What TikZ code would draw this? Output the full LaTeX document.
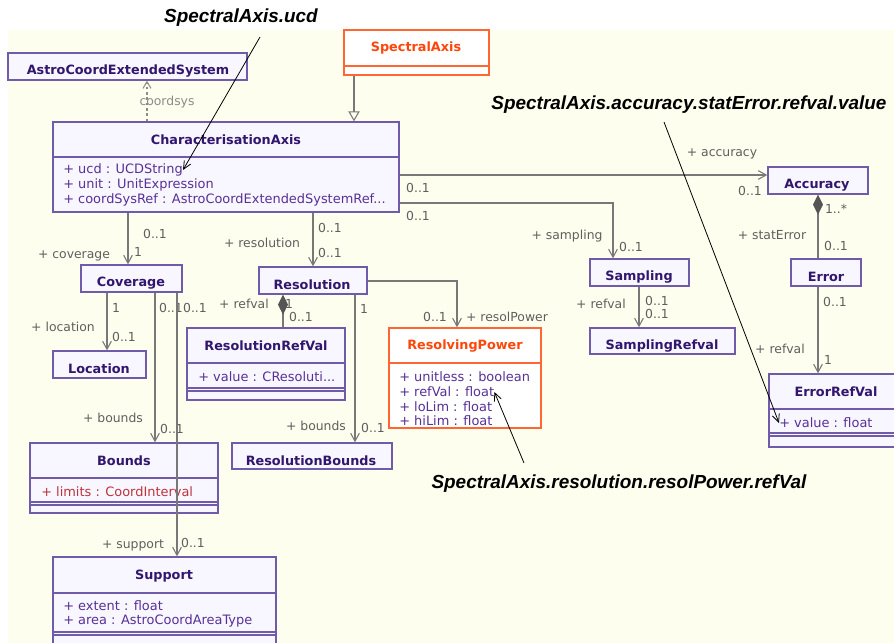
\documentclass[tikz,border=0pt]{standalone}
\usepackage{fontspec}
\usetikzlibrary{arrows.meta,fit}
\newfontfamily\umlfamily{DejaVu Sans}
\newfontfamily\notefamily{Liberation Sans}
\definecolor{bgyellow}{RGB}{254,254,238}
\definecolor{boxfill}{RGB}{248,247,255}
\definecolor{umlpurple}{RGB}{112,90,170}
\definecolor{namecol}{RGB}{50,22,110}
\definecolor{attrcol}{RGB}{88,48,150}
\definecolor{umlorange}{RGB}{255,102,51}
\definecolor{nameorange}{RGB}{255,70,10}
\definecolor{limred}{RGB}{190,50,60}
\definecolor{linegray}{RGB}{120,120,120}
\definecolor{lblgray}{RGB}{95,95,95}
\definecolor{coordgray}{RGB}{140,140,140}
\definecolor{diamondgray}{RGB}{85,85,85}

\tikzset{
  umlbox/.style={draw=umlpurple, fill=boxfill, line width=1pt, inner sep=0pt},
  hotbox/.style={draw=umlorange, fill=white, line width=1pt, inner sep=0pt},
  sepline/.style={draw=umlpurple, line width=0.8pt},
  hotsep/.style={draw=umlorange, line width=0.8pt},
  clsname/.style={font=\umlfamily\bfseries\fontsize{9.6}{11}\selectfont, text=namecol, inner sep=0pt},
  attr/.style={font=\umlfamily\fontsize{9.7}{11}\selectfont, text=attrcol, anchor=west, inner sep=0pt},
  role/.style={font=\umlfamily\fontsize{9.3}{11}\selectfont, text=lblgray, inner sep=0pt},
  assoc/.style={draw=linegray, line width=0.8pt, -{Straight Barb[length=6pt,width=6.5pt]}},
  compline/.style={draw=linegray, line width=0.8pt, {Diamond[length=15pt,width=7.5pt,color=diamondgray]}-},
  comp/.style={compline, -{Straight Barb[length=6pt,width=6.5pt]}},
  gen/.style={draw=linegray, line width=0.8pt, -{Triangle[open,length=7.5pt,width=8.5pt,fill=bgyellow]}},
  dep/.style={draw=coordgray, line width=0.8pt, dash pattern=on 2pt off 2pt, -{Straight Barb[length=5pt,width=6pt]}},
  note/.style={font=\notefamily\bfseries\itshape\fontsize{14.2}{16}\selectfont, text=black, inner sep=0pt},
  pointer/.style={draw=black, line width=0.6pt, -{Straight Barb[length=6pt,width=5.5pt]}}
}

\begin{document}
\begin{tikzpicture}[x=0.75pt,y=0.75pt,yscale=-1,xscale=1]
\useasboundingbox (0,0) rectangle (894,643);
\clip (0,0) rectangle (894,643);
\fill[white] (0,0) rectangle (894,643);
\fill[bgyellow] (8,30) rectangle (894,643);

% class boxes
\node[umlbox, fit={(8,53) (247,80)}] (aces) {};
\node[hotbox, fit={(344,30) (489,75)}] (sa) {};
\node[umlbox, fit={(53,122) (399,212)}] (ca) {};
\node[umlbox, fit={(81,265) (182,292)}] (cov) {};
\node[umlbox, fit={(259,267) (367,294)}] (res) {};
\node[umlbox, fit={(53,351) (146,378)}] (loc) {};
\node[umlbox, fit={(187,328) (345,400)}] (rrv) {};
\node[hotbox, fit={(389,328) (541,428)}] (rp) {};
\node[umlbox, fit={(590,259) (689,286)}] (samp) {};
\node[umlbox, fit={(590,328) (735,354)}] (srv) {};
\node[umlbox, fit={(768,167) (868,194)}] (acc) {};
\node[umlbox, fit={(791,259) (861,286)}] (err) {};
\node[umlbox, fit={(769,374) (904,447)}] (erv) {};
\node[umlbox, fit={(30,443) (218,513)}] (bnd) {};
\node[umlbox, fit={(232,443) (392,469)}] (rbnd) {};
\node[umlbox, fit={(53,557) (276,660)}] (sup) {};

% compartments
\draw[hotsep] (344,66) -- (489,66);
\draw[sepline] (53,157) -- (399,157);
\draw[sepline] (187,363) -- (345,363);
\draw[sepline] (187,388) -- (345,388) (187,391) -- (345,391);
\draw[hotsep] (389,363) -- (541,363);
\draw[sepline] (769,409) -- (904,409);
\draw[sepline] (769,433) -- (904,433) (769,436) -- (904,436);
\draw[sepline] (30,478) -- (218,478);
\draw[sepline] (30,502) -- (218,502) (30,505) -- (218,505);
\draw[sepline] (53,593) -- (276,593);
\draw[sepline] (53,632) -- (276,632) (53,635) -- (276,635);

% names
\node[clsname] (n-aces) at (128,71) {AstroCoordExtendedSystem};
\node[clsname, text=nameorange] (n-sa) at (416,48) {SpectralAxis};
\node[clsname] (n-ca) at (226,140) {CharacterisationAxis};
\node[clsname] (n-cov) at (131,283) {Coverage};
\node[clsname] (n-res) at (312,285) {Resolution};
\node[clsname] (n-loc) at (99,369) {Location};
\node[clsname] (n-rrv) at (266,346) {ResolutionRefVal};
\node[clsname, text=nameorange] (n-rp) at (465,346) {ResolvingPower};
\node[clsname] (n-samp) at (639,277) {Sampling};
\node[clsname] (n-srv) at (662,346) {SamplingRefval};
\node[clsname] (n-acc) at (817,185) {Accuracy};
\node[clsname] (n-err) at (826,277) {Error};
\node[clsname] (n-erv) at (836,392) {ErrorRefVal};
\node[clsname] (n-bnd) at (124,461) {Bounds};
\node[clsname] (n-rbnd) at (311,461) {ResolutionBounds};
\node[clsname] (n-sup) at (164,576) {Support};

% attributes
\node[attr] (ucdattr) at (63,170) {+ ucd : UCDString};
\node[attr] (unitattr) at (63,185) {+ unit : UnitExpression};
\node[attr] (csrattr) at (63,200) {+ coordSysRef : AstroCoordExtendedSystemRef...};
\node[attr] (rrvattr) at (198,377) {+ value : CResoluti...};
\node[attr] (ulattr) at (399,377) {+ unitless : boolean};
\node[attr] (rprefattr) at (399,392) {+ refVal : float};
\node[attr] (loattr) at (399,407) {+ loLim : float};
\node[attr] (hiattr) at (399,421) {+ hiLim : float};
\node[attr] (evattr) at (779,423) {+ value : float};
\node[attr, text=limred] (limattr) at (41,492) {+ limits : CoordInterval};
\node[attr] (extattr) at (63,606) {+ extent : float};
\node[attr] (areaattr) at (63,621) {+ area : AstroCoordAreaType};

% role and multiplicity labels
\node[role, text=coordgray] (lcs) at (167,102) {coordsys};
\node[role] (lcov1) at (155,234) {0..1};
\node[role] (lcov2) at (138,252) {1};
\node[role] (lcov3) at (74,256) {+ coverage};
\node[role] (lres1) at (330,228) {0..1};
\node[role] (lres2) at (330,253) {0..1};
\node[role] (lres3) at (262,243) {+ resolution};
\node[role] (lacc1) at (418,188) {0..1};
\node[role] (lacc2) at (750,191) {0..1};
\node[role] (lacc3) at (722,154) {+ accuracy};
\node[role] (lsam1) at (418,216) {0..1};
\node[role] (lsam2) at (631,247) {0..1};
\node[role] (lsam3) at (567,236) {+ sampling};
\node[role] (lloc1) at (116,308) {1};
\node[role] (lloc2) at (124,337) {0..1};
\node[role] (lloc3) at (63,327) {+ location};
\node[role] (lbnd1) at (171,308) {0..1};
\node[role] (lbnd2) at (172,429) {0..1};
\node[role] (lbnd3) at (113,418) {+ bounds};
\node[role] (lsup1) at (195,308) {0..1};
\node[role] (lsup2) at (193,543) {0..1};
\node[role] (lsup3) at (133,545) {+ support};
\node[role] (lrrv1) at (289,304) {1};
\node[role] (lrrv2) at (301,317) {0..1};
\node[role] (lrrv3) at (244,304) {+ refval};
\node[role] (lrb1) at (364,309) {1};
\node[role] (lrb2) at (373,428) {0..1};
\node[role] (lrb3) at (316,426) {+ bounds};
\node[role] (lrp1) at (435,317) {0..1};
\node[role] (lrp2) at (507,317) {+ resolPower};
\node[role] (lsrv1) at (657,301) {0..1};
\node[role] (lsrv2) at (657,314) {0..1};
\node[role] (lsrv3) at (601,304) {+ refval};
\node[role] (lerr1) at (836,209) {1..*};
\node[role] (lerr2) at (836,246) {0..1};
\node[role] (lerr3) at (772,235) {+ statError};
\node[role] (lerv1) at (835,302) {0..1};
\node[role] (lerv2) at (828,360) {1};
\node[role] (lerv3) at (780,349) {+ refval};

% connectors
\draw[dep] (ca.north -| 147,0) -- (aces.south -| 147,0);
\draw[gen] (sa.south -| 354,0) -- (ca.north -| 354,0);
\draw[comp] (ca.south -| 128,0) -- (cov.north -| 128,0);
\draw[comp] (ca.south -| 313,0) -- (res.north -| 313,0);
\draw[comp] (ca.east |- 0,175) -- (acc.west |- 0,175);
\draw[comp] (ca.east |- 0,203) -| (samp.north -| 613,0);
\draw[assoc] (cov.south -| 107,0) -- (loc.north -| 107,0);
\draw[comp] (cov.south -| 155,0) -- (bnd.north -| 155,0);
\draw[comp] (cov.south -| 177,0) -- (sup.north -| 177,0);
\draw[compline] (res.south -| 283,0) -- (rrv.north -| 283,0);
\draw[comp] (res.south -| 355,0) -- (rbnd.north -| 355,0);
\draw[assoc] (res.east |- 0,281) -| (rp.north -| 457,0);
\draw[assoc] (samp.south -| 639,0) -- (srv.north -| 639,0);
\draw[compline] (acc.south -| 818,0) -- (err.north -| 818,0);
\draw[comp] (err.south -| 818,0) -- (erv.north -| 818,0);

% annotations
\node[note] (ucdnote) at (241,18) {SpectralAxis.ucd};
\node[note] (accnote) at (689,105) {SpectralAxis.accuracy.statError.refval.value};
\node[note] (rpnote) at (619,484) {SpectralAxis.resolution.resolPower.refVal};
\coordinate (ucdtail) at (260,37);
\coordinate (acctail) at (664,122);
\coordinate (rptail) at (524,463);
\draw[pointer] (ucdtail) -- (ucdattr.east);
\draw[pointer] (acctail) -- (evattr.west);
\draw[pointer] (rptail) -- (rprefattr.east);
\end{tikzpicture}
\end{document}
